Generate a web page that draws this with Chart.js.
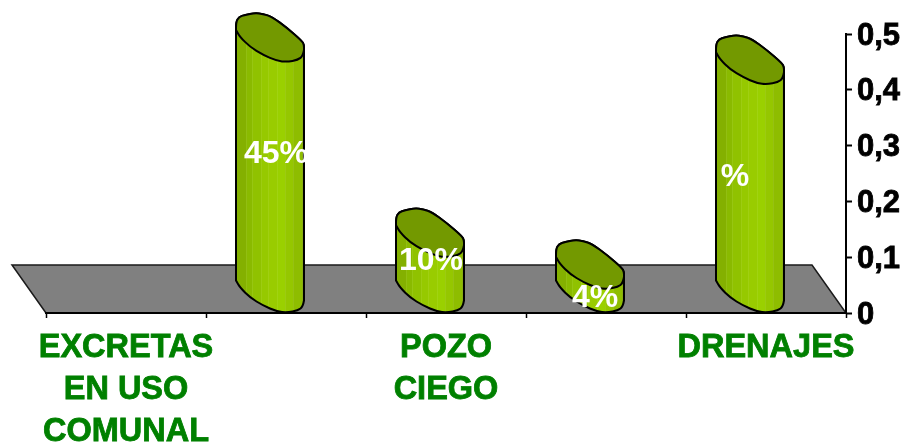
<!DOCTYPE html>
<html><head><meta charset="utf-8">
<style>html,body{margin:0;padding:0;background:#fff}#w{width:906px;height:445px}</style>
<script src="https://cdn.jsdelivr.net/npm/chart.js@4"></script></head>
<body><div id="w"><canvas id="c" width="906" height="445"></canvas></div>
<script>
const categories = [["EXCRETAS","EN USO","COMUNAL"], "", ["POZO","CIEGO"], "", "DRENAJES"];
const values = [null, 0.45, 0.10, 0.043, 0.41];
const pointLabels = ["", "45%", "10%", "4%", "%"];
const yTicks = [0, 0.1, 0.2, 0.3, 0.4, 0.5];

const DEPTH_X = 34, DEPTH_Y = 48;
const labelShift = [null, [-10,-33], [-15,-24], [-11,-3], [-31,-21]];
const bands = [[0,'#84b000'],[.15,'#8aba00'],[.24,'#90c200'],[.37,'#96c900'],[.47,'#99cc00'],[.60,'#9ad000'],[.72,'#95c700'],[.84,'#8ebd00'],[.97,'#80a800']];
const rimUpper = [[-34,-10],[-34,-16],[-31,-21],[-25,-23],[-15,-25],[-7,-24],[2,-21],[17,-10],[32,3],[34,7],[34,12]];
const rimLower = [[34,12],[33,18],[28,22],[17,24],[7,23],[-7,17],[-20,9],[-30,-1],[-34,-8]];

function trace(path,pts,cx,cy,start){
  const P=pts.map(q=>[cx+q[0],cy+q[1]]);
  if(start) path.moveTo(P[0][0],P[0][1]); else path.lineTo(P[0][0],P[0][1]);
  for(let k=1;k<P.length-1;k++){
    path.quadraticCurveTo(P[k][0],P[k][1],(P[k][0]+P[k+1][0])/2,(P[k][1]+P[k+1][1])/2);
  }
  path.lineTo(P[P.length-1][0],P[P.length-1][1]);
}
const cylinder3d = {
  id:'cylinder3d',
  beforeDraw(chart){
    const {ctx,chartArea:a,scales:{y}}=chart, y0=y.getPixelForValue(0);
    ctx.save();ctx.beginPath();
    ctx.moveTo(a.left,y0);ctx.lineTo(a.left-DEPTH_X,y0-DEPTH_Y);
    ctx.lineTo(a.right-DEPTH_X,y0-DEPTH_Y);ctx.lineTo(a.right,y0);ctx.closePath();
    ctx.fillStyle='#808080';ctx.fill();ctx.strokeStyle='#1a1a1a';ctx.lineWidth=1.5;ctx.stroke();ctx.restore();
  },
  afterDatasetsDraw(chart){
    const {ctx}=chart, meta=chart.getDatasetMeta(0);
    meta.data.forEach((bar,i)=>{
      if(values[i]==null) return;
      const p=bar.getProps(['x','y','base','width'],true);
      const r=p.width/2, cx=p.x-DEPTH_X/2+1, top=p.y-DEPTH_Y/2, bot=p.base-DEPTH_Y/2;
      const g=ctx.createLinearGradient(cx-r,0,cx+r,0);
      bands.forEach((b,k)=>{g.addColorStop(b[0],b[1]);if(k<bands.length-1)g.addColorStop(bands[k+1][0]-.001,b[1]);});
      ctx.save();ctx.lineJoin='round';
      const body=new Path2D();
      trace(body,rimUpper,cx,top,true);
      trace(body,rimLower,cx,bot,false);
      body.closePath();
      ctx.fillStyle=g;ctx.fill(body);
      ctx.save();ctx.clip(body);ctx.strokeStyle='rgba(255,255,255,.07)';ctx.lineWidth=1;
      bands.slice(1).forEach(b=>{const x=Math.round(cx-r+b[0]*p.width)+.5;ctx.beginPath();ctx.moveTo(x,top-30);ctx.lineTo(x,p.base);ctx.stroke();});
      ctx.restore();
      ctx.strokeStyle='#000';ctx.lineWidth=2;ctx.stroke(body);
      const cap=new Path2D();
      trace(cap,rimUpper,cx,top,true);
      trace(cap,rimLower,cx,top,false);
      cap.closePath();
      ctx.fillStyle='#739900';ctx.fill(cap);ctx.stroke(cap);
      ctx.restore();
    });
    meta.data.forEach((bar,i)=>{
      if(values[i]==null) return;
      const p=bar.getProps(['x','y','base'],true), s=labelShift[i];
      ctx.save();ctx.font='bold 32px "Liberation Sans"';ctx.fillStyle='#fff';
      ctx.textAlign='center';ctx.textBaseline='middle';
      ctx.fillText(pointLabels[i],p.x+s[0],(p.y+p.base)/2+s[1]);
      ctx.restore();
    });
  }
};
new Chart(document.getElementById('c'),{
  type:'bar',
  data:{labels:categories,datasets:[{data:values,backgroundColor:'rgba(0,0,0,0)',borderWidth:0,categoryPercentage:1,barPercentage:0.425}]},
  plugins:[cylinder3d],
  options:{
    responsive:false,animation:false,
    layout:{autoPadding:false,padding:{left:46,top:34,right:0,bottom:0}},
    plugins:{legend:{display:false},tooltip:{enabled:false},title:{display:false}},
    scales:{
      x:{offset:true,
        afterFit(s){s.height=132;},
        grid:{offset:true,drawOnChartArea:false,color:'#000',tickLength:5,tickWidth:1.5},
        border:{color:'#000',width:2},
        ticks:{autoSkip:false,maxRotation:0,minRotation:0,color:'#008000',padding:9,
          textStrokeColor:'#008000',textStrokeWidth:0.8,
          font:{family:'"Liberation Sans"',weight:'bold',size:32.5,lineHeight:1.29}}},
      y:{position:'right',min:0,max:0.5,
        afterFit(s){s.width=60;},
        afterBuildTicks(s){s.ticks=yTicks.map(v=>({value:v}));},
        grid:{drawOnChartArea:false,color:'#000',tickLength:6,tickWidth:2},
        border:{color:'#000',width:2},
        ticks:{color:'#000',padding:5,labelOffset:2,textStrokeColor:'#000',textStrokeWidth:0.8,
          callback:v=>String(v).replace('.',','),
          font:{family:'"Liberation Sans"',weight:'bold',size:31}}}
    }
  }
});
</script></body></html>
